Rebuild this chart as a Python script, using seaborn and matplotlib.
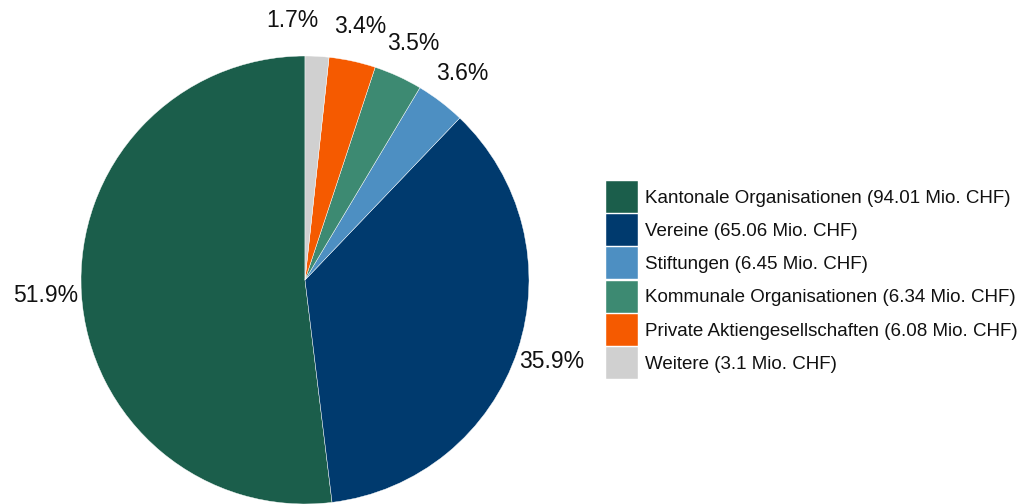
import matplotlib
matplotlib.use("Agg")
import matplotlib.pyplot as plt
import seaborn as sns

categories = [
    "Kantonale Organisationen",
    "Vereine",
    "Stiftungen",
    "Kommunale Organisationen",
    "Private Aktiengesellschaften",
    "Weitere",
]
amounts = [94.01, 65.06, 6.45, 6.34, 6.08, 3.1]
amount_text = ["94.01", "65.06", "6.45", "6.34", "6.08", "3.1"]
colors = ["#1b5e4b", "#003a6e", "#4d8fc2", "#3d8a72", "#f55a00", "#d0d0d0"]

sns.set_theme(style="white")
plt.rcParams['font.family'] = ['Liberation Sans', 'DejaVu Sans']

palette = sns.color_palette(colors)

fig = plt.figure(figsize=(10.26, 5.04), dpi=100)
W, H = 1026, 504
cx, cy, r = 305, 280, 224
ax = fig.add_axes([(cx - r) / W, (H - cy - r) / H, 2 * r / W, 2 * r / H])

wedges, texts, autotexts = ax.pie(
    amounts,
    colors=palette,
    startangle=90,
    counterclock=True,
    autopct='%1.1f%%',
    pctdistance=1.16,
    wedgeprops=dict(edgecolor='white', linewidth=0.3),
    textprops=dict(fontsize=16.5, color='#111111'),
)
# smallest slice label sits to the left of its neighbour
autotexts[-1].set_ha('right')

ax.set_xlim(-1, 1)
ax.set_ylim(-1, 1)
ax.set_aspect('equal')
ax.axis('off')

labels = [f"{c} ({a} Mio. CHF)" for c, a in zip(categories, amount_text)]
leg = fig.legend(
    wedges, labels,
    loc='center left',
    bbox_to_anchor=(606 / W, 1 - 280 / H),
    bbox_transform=fig.transFigure,
    frameon=False,
    fontsize=13.5,
    handlelength=1.7,
    handleheight=2.25,
    handletextpad=0.37,
    labelspacing=0.07,
    borderpad=0,
    borderaxespad=0,
)
for t in leg.get_texts():
    t.set_color('#111111')

fig.savefig("out.png", dpi=100)
